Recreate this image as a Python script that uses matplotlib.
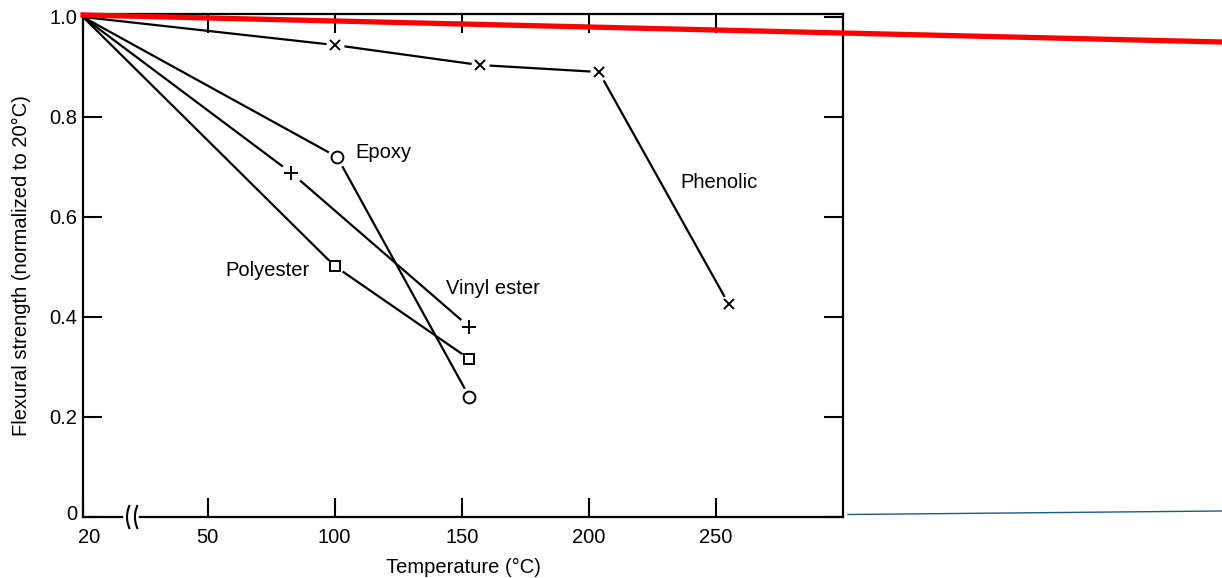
import numpy as np
import matplotlib
matplotlib.use("Agg")
import matplotlib.pyplot as plt
import matplotlib.transforms as mtransforms
from matplotlib.lines import Line2D

plt.rcParams['font.family'] = ['Liberation Sans', 'DejaVu Sans']

# ---- data (temperature in °C, flexural strength normalized to 20°C) ----
phenolic_t = [20, 100, 157, 204, 255]
phenolic_s = [1.0, 0.944, 0.904, 0.89, 0.426]
epoxy_t = [20, 101, 153]
epoxy_s = [1.0, 0.72, 0.24]
vinyl_t = [20, 83, 153]
vinyl_s = [1.0, 0.688, 0.38]
polyester_t = [20, 100, 153]
polyester_s = [1.0, 0.502, 0.316]

x_ticks = [20, 50, 100, 150, 200, 250]
x_ticklabels = ['20', '50', '100', '150', '200', '250']
y_ticks = [0, 0.2, 0.4, 0.6, 0.8, 1.0]
y_ticklabels = ['0', '0.2', '0.4', '0.6', '0.8', '1.0']

labels = ['Epoxy', 'Phenolic', 'Vinyl ester', 'Polyester']
label_t = [108, 236, 144, 57]
label_s = [0.728, 0.67, 0.458, 0.492]

# broken axis: 20..50 compressed
def fwd(t):
    t = np.asarray(t, dtype=float)
    return np.where(t >= 50, t, 50 - (50 - t) * 49.0 / 30.0)

def inv(u):
    u = np.asarray(u, dtype=float)
    return np.where(u >= 50, u, 50 - (50 - u) * 30.0 / 49.0)

fig = plt.figure(figsize=(12.22, 5.78), dpi=100)
ax = fig.add_axes([83/1222, 1 - 517/578, (843-83)/1222, (517-14)/578])
ax.set_xscale('function', functions=(fwd, inv))
ax.set_xlim(20, 300)
ax.set_ylim(0, 1.006)

lw = 1.6
FS = 14.5

def series(t, s, marker, ms, mew=1.4):
    ax.plot(t, s, color='black', lw=lw, zorder=2, solid_capstyle='butt')
    # white halo to create gaps around markers
    ax.plot(t[1:], s[1:], ls='none', marker='o', ms=ms + 5, mfc='white',
            mec='white', zorder=3)
    ax.plot(t[1:], s[1:], ls='none', marker=marker, ms=ms, mfc='white',
            mec='black', mew=mew, zorder=4)

series(phenolic_t, phenolic_s, 'x', 7)
series(epoxy_t, epoxy_s, 'o', 8.5)
series(vinyl_t, vinyl_s, '+', 10)
series(polyester_t, polyester_s, 's', 6.5)

for lab, t, s in zip(labels, label_t, label_s):
    ax.text(t, s, lab, fontsize=FS, ha='left', va='center', color='black')

ax.set_xticks(x_ticks)
ax.set_xticklabels(x_ticklabels)
ax.set_yticks(y_ticks)
ax.set_yticklabels(y_ticklabels)
ax.tick_params(direction='in', length=14, width=1.5, top=True, right=True,
               labelsize=FS, pad=4)
ax.tick_params(axis='x', pad=8)
for sp in ax.spines.values():
    sp.set_linewidth(1.6)

# nudge the corner labels apart as in the reference
xl = ax.get_xticklabels()[0]
xl.set_transform(xl.get_transform() +
                 mtransforms.ScaledTranslation(6/100, 0, fig.dpi_scale_trans))
yl = ax.get_yticklabels()[0]
yl.set_transform(yl.get_transform() +
                 mtransforms.ScaledTranslation(0, 4/100, fig.dpi_scale_trans))

ax.set_xlabel('Temperature (°C)', fontsize=FS, labelpad=8)
ax.set_ylabel('Flexural strength (normalized to 20°C)', fontsize=FS, labelpad=13)

# axis break mark on bottom spine
bx0 = (124 - 83) / 760
bx1 = (138 - 83) / 760
ax.add_line(Line2D([bx0 + 0.002, bx1 - 0.002], [0, 0], transform=ax.transAxes,
                   color='white', lw=4, clip_on=False, zorder=5))
for xc in (bx0 + 0.004, bx1 - 0.004):
    yy = np.linspace(-0.022, 0.022, 20)
    xx = xc + 0.003 * (yy / 0.022) ** 2
    ax.add_line(Line2D(xx, yy, transform=ax.transAxes, color='black', lw=1.5,
                       clip_on=False, zorder=6))

# annotation lines drawn on top of the figure
fig.add_artist(Line2D([83/1222, 1.0], [1 - 15/578, 1 - 42/578],
                      transform=fig.transFigure, color='#ff0000', lw=3.8,
                      zorder=10))
fig.add_artist(Line2D([848/1222, 1.0], [1 - 514.5/578, 1 - 511/578],
                      transform=fig.transFigure, color='#1f5a85', lw=1.0,
                      zorder=10))

fig.savefig('out.png', dpi=100)
